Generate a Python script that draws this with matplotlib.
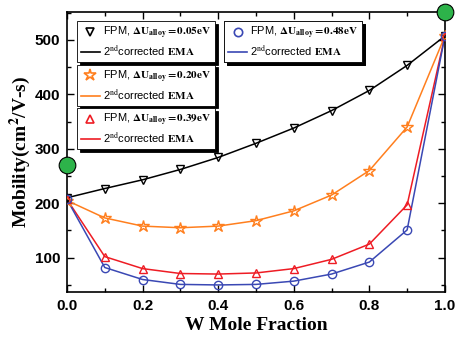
import matplotlib.pyplot as plt
from matplotlib.lines import Line2D
from matplotlib.ticker import MultipleLocator

plt.rcParams['mathtext.fontset'] = 'stix'

# W mole fraction
x = [0.0, 0.1, 0.2, 0.3, 0.4, 0.5, 0.6, 0.7, 0.8, 0.9, 1.0]

# mobility (cm2/V-s) for each alloy scattering potential
mob_005 = [210, 227, 243, 262, 284, 310, 338, 370, 407, 453, 507]
mob_020 = [205, 173, 158, 155, 158, 168, 186, 215, 260, 340, 507]
mob_039 = [207, 102, 80, 71, 70, 72, 80, 97, 125, 197, 507]
mob_048 = [207, 82, 60, 51, 50, 51, 57, 70, 92, 151, 507]

# end points (pure compounds)
end_x = [0.0, 1.0]
end_y = [270, 551]

labels_du = ['0.05', '0.20', '0.39', '0.48']
colors = ['black', '#ff7f1e', '#ee1c24', '#3a48b4']
markers = ['v', '*', '^', 'o']
series = [mob_005, mob_020, mob_039, mob_048]

fig = plt.figure(figsize=(4.57, 3.38), dpi=100)
ax = fig.add_axes([0.1466, 0.136, 0.827, 0.8285])

for y, c, m in zip(series, colors, markers):
    ms = 9 if m == '*' else 6
    ax.plot(x, y, '-', color=c, lw=1.1, zorder=2)
    ax.plot(x, y, m, color=c, mfc='none', mec=c, ms=ms, mew=1.0, zorder=3)

ax.plot(end_x, end_y, 'o', color='#2db34a', mec='black', mew=0.8, ms=12,
        clip_on=False, zorder=5)

ax.set_xlim(0, 1.0)
ax.set_ylim(37, 551)
ax.xaxis.set_major_locator(MultipleLocator(0.2))
ax.xaxis.set_minor_locator(MultipleLocator(0.1))
ax.yaxis.set_major_locator(MultipleLocator(100))
ax.yaxis.set_minor_locator(MultipleLocator(50))
ax.tick_params(which='both', direction='in', top=True, right=True, width=1)
ax.tick_params(which='major', length=5, pad=5)
ax.tick_params(which='minor', length=3)
for sp in ax.spines.values():
    sp.set_linewidth(1.2)

for lab in ax.get_yticklabels():
    lab.set_fontfamily('Liberation Sans')
    lab.set_fontweight('bold')
    lab.set_fontsize(11)
ax.set_xticks([0.0, 0.2, 0.4, 0.6, 0.8, 1.0])
ax.set_xticklabels(['0.0', '0.2', '0.4', '0.6', '0.8', '1.0'],
                   fontfamily='Liberation Sans', fontweight='bold', fontsize=11)

ax.set_xlabel('W Mole Fraction', fontfamily='Liberation Serif',
              fontweight='bold', fontsize=14, labelpad=3)
ax.set_ylabel('Mobility(cm$^\\mathbf{2}$/V-s)', fontfamily='Liberation Serif',
              fontweight='bold', fontsize=14, labelpad=1)

# four separate legend boxes
anchors = [(0.02, 0.975), (0.02, 0.82), (0.02, 0.665), (0.41, 0.975)]
for du, c, m, anc in zip(labels_du, colors, markers, anchors):
    ms = 9 if m == '*' else 6
    h1 = Line2D([], [], ls='none', marker=m, mfc='none', mec=c, ms=ms, mew=1.2)
    h2 = Line2D([], [], color=c, lw=1.2)
    leg = ax.legend([h1, h2],
                    ['FPM, $\\mathbf{\\Delta U_{alloy} = ' + du + 'eV}$',
                     '2$^{\\mathrm{nd}}$corrected $\\mathbf{EMA}$'],
                    loc='upper left', bbox_to_anchor=anc,
                    frameon=True, fancybox=False,
                    edgecolor='black', framealpha=1,
                    shadow={'color': 'black', 'alpha': 1},
                    handlelength=1.7, handletextpad=0.3,
                    borderpad=0.35, labelspacing=0.25, borderaxespad=0.2,
                    prop={'family': 'Liberation Sans', 'size': 8})
    leg.get_frame().set_linewidth(0.6)
    ax.add_artist(leg)

fig.savefig('out.png', dpi=100)
